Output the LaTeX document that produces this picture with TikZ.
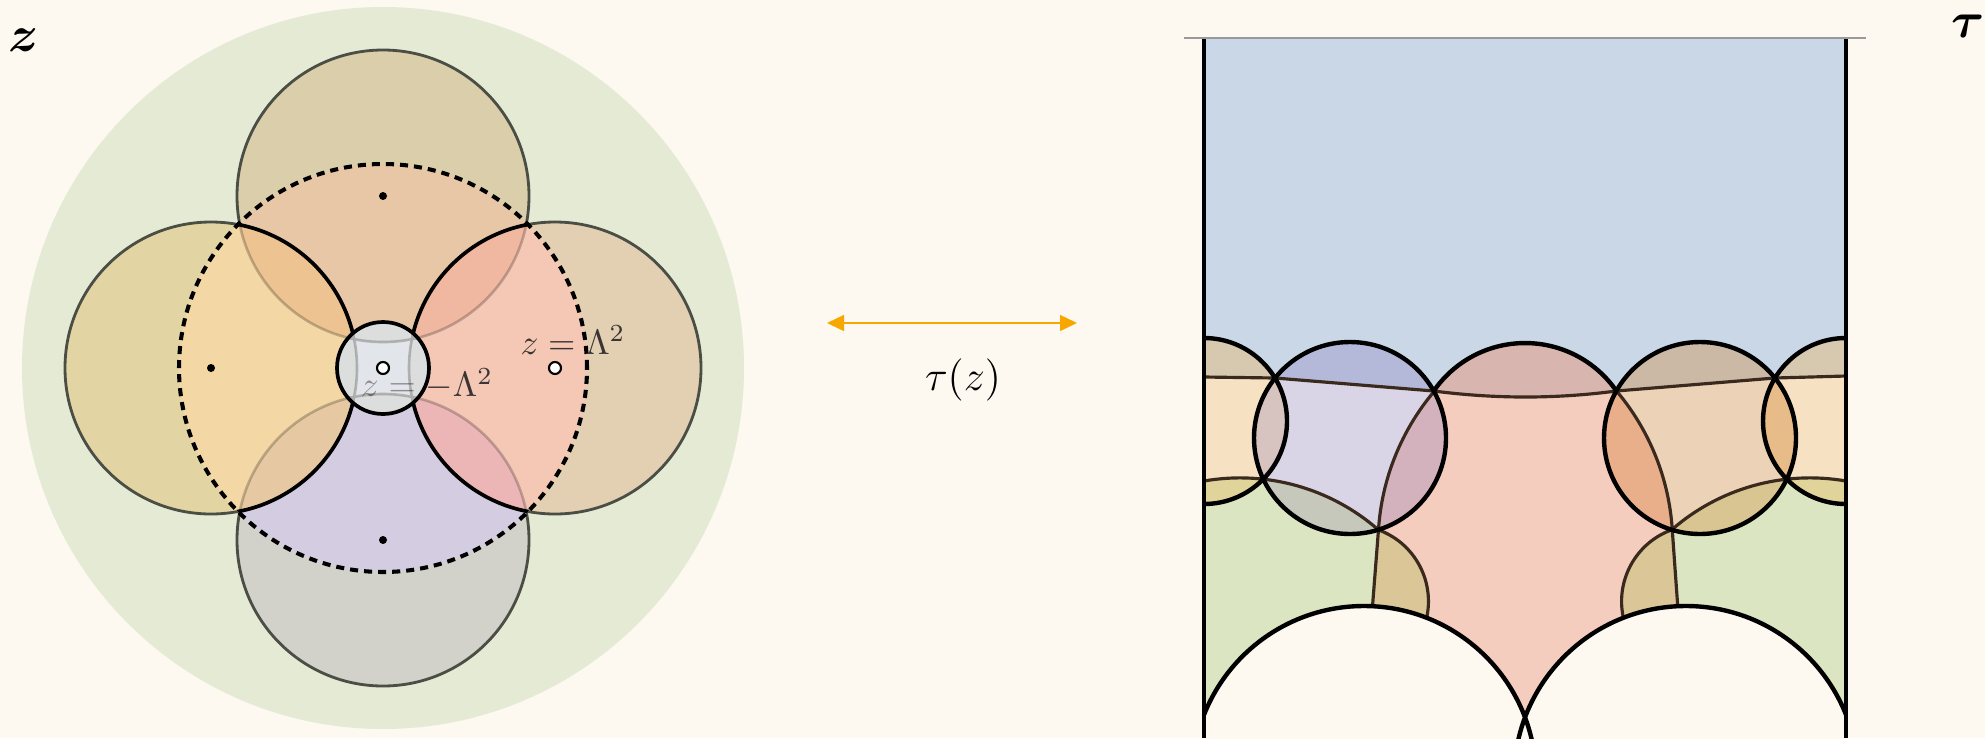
\documentclass[tikz,border=0pt]{standalone}
\usepackage{amsmath}
\usepackage{tikz}
\usetikzlibrary{arrows.meta}

\definecolor{pagebg}{HTML}{FDF9F1}
\definecolor{zdisk}{HTML}{E5EAD5}
\definecolor{lobegray}{HTML}{4B4E45}
\definecolor{outT}{HTML}{DBCFAB}
\definecolor{outL}{HTML}{E3D5A3}
\definecolor{outR}{HTML}{E3CFB1}
\definecolor{outB}{HTML}{D2D1CA}
\definecolor{inT}{HTML}{E8C7A6}
\definecolor{inL}{HTML}{F3D7A4}
\definecolor{inR}{HTML}{F5C8B6}
\definecolor{inB}{HTML}{D4CDE1}
\definecolor{lensTL}{HTML}{ECC391}
\definecolor{lensTR}{HTML}{F0B8A0}
\definecolor{lensBL}{HTML}{E6C8A2}
\definecolor{lensBR}{HTML}{EBB6B5}
\definecolor{smallsq}{HTML}{E2E6EA}
\definecolor{smallcorner}{HTML}{D7D7D3}
\definecolor{labgray}{HTML}{3B3434}
\definecolor{maporange}{HTML}{F6A800}
\definecolor{tauBlue}{HTML}{CAD7E6}
\definecolor{greenG}{HTML}{DCE5C2}
\definecolor{pinkP}{HTML}{F5CDBF}
\definecolor{tanLens}{HTML}{DBC697}
\definecolor{capM}{HTML}{D9B5B0}
\definecolor{pCap}{HTML}{D6C9AF}
\definecolor{pMid}{HTML}{F6E2C3}
\definecolor{pBot}{HTML}{E0D49B}
\definecolor{aMid}{HTML}{D9D5E6}
\definecolor{aTop}{HTML}{B4B8D9}
\definecolor{aG}{HTML}{C5C8BB}
\definecolor{aP}{HTML}{D4B2BD}
\definecolor{aPL}{HTML}{D7C3C0}
\definecolor{bMid}{HTML}{ECD3B8}
\definecolor{bTop}{HTML}{CBB8A5}
\definecolor{bG}{HTML}{D9C591}
\definecolor{bP}{HTML}{E9AF8B}
\definecolor{bPR}{HTML}{E8BC89}
\definecolor{geobrown}{HTML}{3A2A1E}
\definecolor{topgray}{HTML}{9A9A9A}

% regions of the tau strip
\newcommand\abovetop{(1204,361) -- (1275,360) -- (1433.7,347)
  .. controls (1495,339) and (1556,339) .. (1616.3,347)
  -- (1775,360) -- (1846,362) -- (1846,700) -- (1204,700) -- cycle}
\newcommand\gleft{(1204,257) arc[start angle=99.9, end angle=48.8, radius=210]
  arc[start angle=70, end angle=-20, radius=76] -- (1424.5,0) -- (1204,0) -- cycle}
\newcommand\gright{(1846,257) arc[start angle=80.1, end angle=131.2, radius=210]
  arc[start angle=110, end angle=200, radius=76] -- (1626,0) -- (1846,0) -- cycle}
\newcommand\ppink{(1433.7,347) arc[start angle=145.4, end angle=34.6, radius=111]
  arc[start angle=40.2, end angle=3.6, radius=238] -- (1680,100) -- (1680,0)
  -- (1370,0) -- (1370,100) -- (1378.5,208)
  arc[start angle=176.4, end angle=139.8, radius=238] -- cycle}

\begin{document}
\begin{tikzpicture}[x=0.01cm, y=0.01cm,
  lobe/.style={draw=lobegray, line width=0.8pt},
  sepline/.style={draw=black, line width=1.05pt},
  faint/.style={draw=black, draw opacity=0.22, line width=0.75pt},
  dashrim/.style={draw=black, line width=1.15pt, dash pattern=on 2.3pt off 1.7pt},
  rim/.style={draw=black, line width=1.25pt},
  geo/.style={draw=geobrown, line width=0.9pt},
  wall/.style={draw=black, line width=1.25pt},
  dotpt/.style={circle, fill=black, inner sep=0pt, minimum size=0.08cm},
  hole/.style={circle, draw=black, fill=white, line width=0.6pt,
    inner sep=0pt, minimum size=0.12cm},
  lab/.style={text=labgray, font=\normalsize},
  maparr/.style={{Triangle[length=1.7mm,width=1.6mm]}-{Triangle[length=1.7mm,width=1.6mm]},
    draw=maporange, line width=0.4pt}
]
\useasboundingbox (0,0) rectangle (1985,738);
\fill[pagebg] (0,0) rectangle (1985,738);

% ---- z plane
\coordinate (zc) at (383,370);
\coordinate (lT) at (383,542);
\coordinate (lB) at (383,198);
\coordinate (lL) at (211,370);
\coordinate (lR) at (555,370);
\fill[zdisk] (zc) circle[radius=361];
\fill[outT] (lT) circle[radius=146];
\fill[outL] (lL) circle[radius=146];
\fill[outR] (lR) circle[radius=146];
\fill[outB] (lB) circle[radius=146];
\foreach \c in {lT,lL,lR,lB}
  \draw[lobe] (\c) circle[radius=146];
\begin{scope}
  \clip (zc) circle[radius=204];
  \fill[inT] (lT) circle[radius=146];
  \fill[inB] (lB) circle[radius=146];
  \fill[inL] (lL) circle[radius=146];
  \fill[inR] (lR) circle[radius=146];
  \begin{scope}
    \clip (lT) circle[radius=146];
    \fill[lensTL] (lL) circle[radius=146];
    \fill[lensTR] (lR) circle[radius=146];
  \end{scope}
  \begin{scope}
    \clip (lB) circle[radius=146];
    \fill[lensBL] (lL) circle[radius=146];
    \fill[lensBR] (lR) circle[radius=146];
  \end{scope}
  \draw[faint] (lT) circle[radius=146] (lB) circle[radius=146];
  \draw[sepline] (lL) circle[radius=146] (lR) circle[radius=146];
\end{scope}
\draw[dashrim] (zc) circle[radius=204];

% small disk round the branch points
\fill[smallsq] (zc) circle[radius=46];
\begin{scope}
  \clip (zc) circle[radius=46];
  \fill[smallcorner] (lT) circle[radius=146] (lB) circle[radius=146]
    (lL) circle[radius=146] (lR) circle[radius=146];
\end{scope}
\node[lab] (zminus) at (427,354) {$z=-\Lambda^2$};
\begin{scope}
  \clip (zc) circle[radius=46];
  \fill[smallsq, fill opacity=0.5] (zc) circle[radius=46];
  \draw[faint] (lT) circle[radius=146] (lB) circle[radius=146]
    (lL) circle[radius=146] (lR) circle[radius=146];
\end{scope}
\draw[sepline] (zc) circle[radius=46];

\node[dotpt] (dT) at (lT) {};
\node[dotpt] (dL) at (lL) {};
\node[dotpt] (dB) at (lB) {};
\node[hole] (hC) at (zc) {};
\node[hole] (hR) at (lR) {};
\node[lab] (zplus) at (573,398) {$z=\Lambda^2$};
\node[inner sep=0pt, font=\fontsize{14}{16}\selectfont] (zname) at (24,698) {$\boldsymbol{z}$};

% ---- the map
\coordinate (mapL) at (827,415);
\coordinate (mapR) at (1077,415);
\draw[maparr] (mapL) -- (mapR);
\node[font=\fontsize{13}{15}\selectfont] (mapname) at (963,358) {$\tau(z)$};

% ---- tau strip
\coordinate (cA) at (1350,300);
\coordinate (cB) at (1700,300);
\coordinate (cM) at (1525,284);
\coordinate (cPL) at (1204,317);
\coordinate (cPR) at (1846,317);
\coordinate (cWL) at (1364,-40);
\coordinate (cWR) at (1686,-40);
\begin{scope}
  \clip (1204,0) rectangle (1846,700);
  \fill[tauBlue] (1204,0) rectangle (1846,700);
  \fill[greenG] \gleft;
  \fill[greenG] \gright;
  \fill[pinkP] \ppink;
  \begin{scope}
    \clip \ppink;
    \fill[capM] \abovetop;
  \end{scope}
  \begin{scope}
    \clip \gleft;
    \fill[tanLens] \ppink;
  \end{scope}
  \begin{scope}
    \clip \gright;
    \fill[tanLens] \ppink;
  \end{scope}
  % half discs on the walls
  \begin{scope}
    \clip (cPL) circle[radius=83];
    \fill[pMid] (cPL) circle[radius=83];
    \fill[pCap] \abovetop;
    \fill[pBot] \gleft;
  \end{scope}
  \begin{scope}
    \clip (cPR) circle[radius=83];
    \fill[pMid] (cPR) circle[radius=83];
    \fill[pCap] \abovetop;
    \fill[pBot] \gright;
  \end{scope}
  % the two full discs
  \begin{scope}
    \clip (cA) circle[radius=96];
    \fill[aMid] (cA) circle[radius=96];
    \fill[aTop] \abovetop;
    \fill[aG] \gleft;
    \fill[aP] \ppink;
    \fill[aPL] (cPL) circle[radius=83];
  \end{scope}
  \begin{scope}
    \clip (cB) circle[radius=96];
    \fill[bMid] (cB) circle[radius=96];
    \fill[bTop] \abovetop;
    \fill[bG] \gright;
    \fill[bP] \ppink;
    \fill[bPR] (cPR) circle[radius=83];
  \end{scope}
  % images of the cuts
  \draw[geo] (1204,361) -- (1275,360) -- (1433.7,347)
    .. controls (1495,339) and (1556,339) .. (1616.3,347)
    -- (1775,360) -- (1846,362);
  \draw[geo] (1204,257) arc[start angle=99.9, end angle=48.8, radius=210]
    arc[start angle=70, end angle=-20, radius=76];
  \draw[geo] (1846,257) arc[start angle=80.1, end angle=131.2, radius=210]
    arc[start angle=110, end angle=200, radius=76];
  \draw[geo] (1434.2,346.7) arc[start angle=139.8, end angle=176.4, radius=238]
    -- (1370,100);
  \draw[geo] (1616.5,347) arc[start angle=40.2, end angle=3.6, radius=238]
    -- (1680,100);
  \draw[rim] (cPL) circle[radius=83] (cPR) circle[radius=83];
  \draw[rim] (cA) circle[radius=96] (cB) circle[radius=96];
  \draw[rim] (1433.7,347) arc[start angle=145.4, end angle=34.6, radius=111];
  \fill[pagebg] (cWL) circle[radius=172] (cWR) circle[radius=172];
  \draw[rim] (cWL) circle[radius=172] (cWR) circle[radius=172];
\end{scope}
\draw[wall] (1204,700) -- (1204,0);
\draw[wall] (1846,700) -- (1846,0);
\draw[draw=topgray, line width=0.6pt] (1184,700) -- (1866,700);
\node[inner sep=0pt, font=\fontsize{15}{18}\selectfont] (tname) at (1968,712) {$\boldsymbol{\tau}$};
\end{tikzpicture}
\end{document}
